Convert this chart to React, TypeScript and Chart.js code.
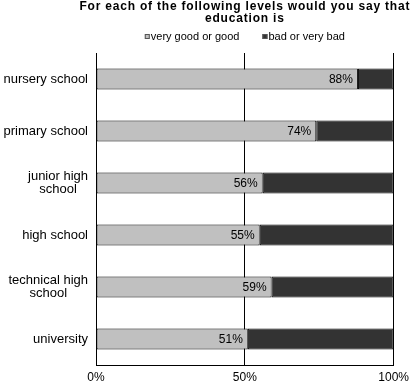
import React, { useEffect, useRef } from "react";
import { Chart, registerables } from "chart.js";

Chart.register(...registerables);

const titleLines = ["For each of the following levels would you say that", "education is"];
const categories: string[][] = [
  ["nursery school"],
  ["primary school"],
  ["junior high", "school"],
  ["high school"],
  ["technical high", "school"],
  ["university"],
];
const seriesNames = ["very good or good", "bad or very bad"];
const goodValues = [88, 74, 56, 55, 59, 51];
const badValues = [12, 26, 44, 45, 41, 49];
const xTickValues = [0, 50, 100];
const xTickLabels = ["0%", "50%", "100%"];

const FONT = '"Liberation Sans", Arial, sans-serif';
const LIGHT = "#c0c0c0";
const DARK = "#333333";

export default function App() {
  const ref = useRef<HTMLCanvasElement | null>(null);
  useEffect(() => {
    document.body.style.margin = "0";
    const canvas = ref.current!;
    const overlay = {
      id: "overlay",
      afterDatasetsDraw(chart: any) {
        const ctx = chart.ctx as CanvasRenderingContext2D;
        const area = chart.chartArea;
        const cx = (area.left + area.right) / 2;
        ctx.save();
        // title
        ctx.fillStyle = "#000";
        ctx.font = `bold 12px ${FONT}`;
        (ctx as any).letterSpacing = "0.8px";
        ctx.textAlign = "center";
        ctx.textBaseline = "alphabetic";
        titleLines.forEach((t, i) => ctx.fillText(t, cx, 10 + i * 12));
        (ctx as any).letterSpacing = "0px";
        // legend
        ctx.font = `11px ${FONT}`;
        const box = 5;
        const gapBox = 1;
        const gapItem = 23;
        const widths = seriesNames.map((s) => ctx.measureText(s).width);
        const total = widths.reduce((a, w) => a + box + gapBox + w, 0) + gapItem * (seriesNames.length - 1);
        let x = cx - total / 2;
        const colors = [LIGHT, DARK];
        ctx.textAlign = "left";
        seriesNames.forEach((s, i) => {
          ctx.fillStyle = colors[i];
          ctx.fillRect(x, 34, box, box);
          ctx.strokeStyle = "#555";
          ctx.lineWidth = 1;
          ctx.strokeRect(x + 0.5, 34.5, box - 1, box - 1);
          ctx.fillStyle = "#000";
          ctx.fillText(s, x + box + gapBox, 40);
          x += box + gapBox + widths[i] + gapItem;
        });
        // category labels
        const yScale = chart.scales.y;
        ctx.font = `13px ${FONT}`;
        ctx.textBaseline = "middle";
        ctx.textAlign = "center";
        const right = area.left - 8;
        categories.forEach((lines, i) => {
          const yc = yScale.getPixelForTick(i);
          const maxW = Math.max(...lines.map((l) => ctx.measureText(l).width));
          const lh = 13;
          lines.forEach((l, j) => {
            const y = yc + (j - (lines.length - 1) / 2) * lh;
            ctx.fillText(l, right - maxW / 2, y);
          });
        });
        // data labels
        ctx.font = `12px ${FONT}`;
        ctx.textAlign = "right";
        const meta = chart.getDatasetMeta(0);
        meta.data.forEach((bar: any, i: number) => {
          ctx.fillText(`${goodValues[i]}%`, bar.x - 5, bar.y + 1);
        });
        ctx.restore();
      },
    };
    const chart = new Chart(canvas, {
      type: "bar",
      data: {
        labels: categories.map((c) => c.join(" ")),
        datasets: [
          {
            label: seriesNames[0],
            data: goodValues,
            backgroundColor: LIGHT,
            borderColor: "#000",
            borderWidth: 1,
            borderSkipped: false,
            barPercentage: 0.8,
            categoryPercentage: 0.5,
          },
          {
            label: seriesNames[1],
            data: badValues,
            backgroundColor: DARK,
            borderColor: "#000",
            borderWidth: 1,
            borderSkipped: false,
            barPercentage: 0.8,
            categoryPercentage: 0.5,
          },
        ],
      },
      options: {
        indexAxis: "y",
        responsive: false,
        animation: false,
        layout: { padding: { left: 96, right: 19, top: 53, bottom: 0 } },
        plugins: { legend: { display: false }, title: { display: false }, tooltip: { enabled: false } },
        scales: {
          x: {
            stacked: true,
            min: 0,
            max: 100,
            afterBuildTicks: (scale: any) => {
              scale.ticks = xTickValues.map((v) => ({ value: v }));
            },
            afterFit: (scale: any) => {
              scale.height = 19;
            },
            grid: { color: "#000", drawTicks: false, lineWidth: 1 },
            border: { display: true, color: "#000" },
            ticks: {
              padding: 5,
              color: "#000",
              font: { family: FONT, size: 12 },
              callback: (v: any) => xTickLabels[xTickValues.indexOf(Number(v))],
            },
          },
          y: {
            stacked: true,
            grid: { display: false, drawTicks: false },
            border: { display: true, color: "#000" },
            ticks: { display: false },
            afterFit: (scale: any) => {
              scale.width = 0;
            },
          },
        },
      },
      plugins: [overlay],
    } as any);
    return () => chart.destroy();
  }, []);
  return (
    <div style={{ width: 414, height: 384 }}>
      <canvas ref={ref} width={414} height={384} style={{ display: "block" }} />
    </div>
  );
}
